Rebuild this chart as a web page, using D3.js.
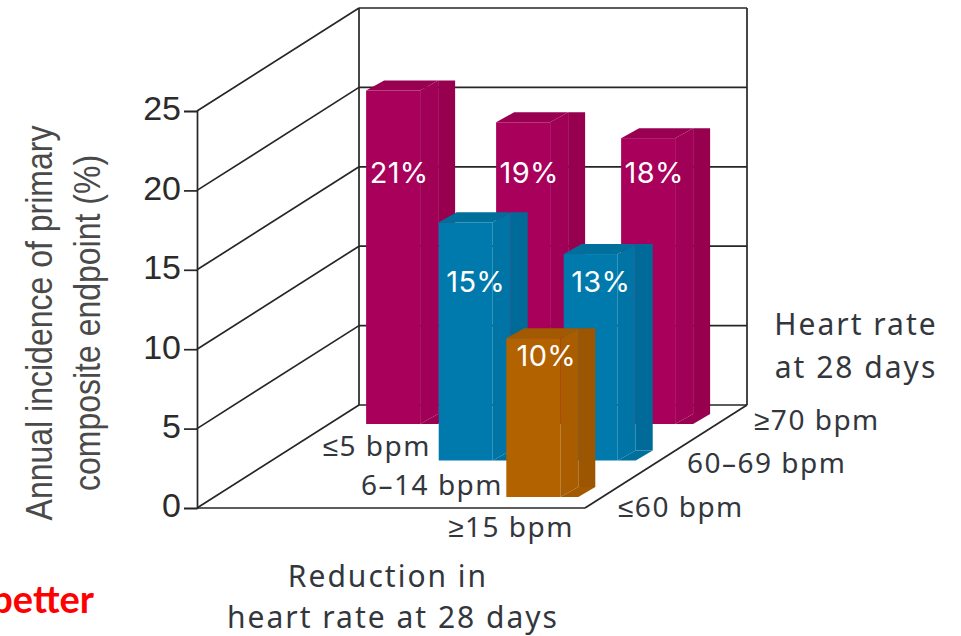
<!DOCTYPE html>
<html>
<head>
<meta charset="utf-8">
<script src="https://cdn.jsdelivr.net/npm/d3@7"></script>
<style>
html, body { margin: 0; padding: 0; background: #fff; overflow: hidden; }
svg { display: block; }
.plex { font-family: "Noto Sans", sans-serif; fill: #33373d; }
.arial { font-family: "Liberation Sans", sans-serif; }
</style>
</head>
<body>
<svg id="chart" width="961" height="636"></svg>
<script>
// Categories and values
const reductionGroups = ["≤5 bpm", "6–14 bpm", "≥15 bpm"];
const heartRateGroups = ["≤60 bpm", "60–69 bpm", "≥70 bpm"];
const incidenceTicks = [0, 5, 10, 15, 20, 25];
const backRowValues = [21, 19, 18];
const middleRowValues = [null, 15, 13];
const frontRowValues = [null, null, 10];
const rowValues = [frontRowValues, middleRowValues, backRowValues];

// Oblique projection: the floor is sheared up and to the right
const svg = d3.select("#chart");
const y = d3.scaleLinear().domain([0, 25]).range([508, 111]);
const unitHeight = y(0) - y(1);
const wall = { left: 197, right: 585, depthX: 162, depthY: 103 };
const shearX = wall.depthX / wall.depthY;
const depth = d3.scalePoint().domain(heartRateGroups).range([11, 84]);
const column = d3.scaleOrdinal().domain(reductionGroups).range([234, 364, 489]);

const project = (x, d) => [x + d * shearX, y(0) - d];

// Bar proportions and shades
const bar = { front: 54, side: 18, strip: 17, rise: 10 };
const palette = {
  "≥70 bpm":   { front: "#a8005b", side: "#a00056", strip: "#96004f", top: "#990051" },
  "60–69 bpm": { front: "#007aad", side: "#0074a5", strip: "#006a98", top: "#006f9c" },
  "≤60 bpm":   { front: "#b36200", side: "#a95c00", strip: "#9c5500", top: "#a25900" }
};

// Back wall, floor and side wall
const frame = svg.append("g").attr("fill", "none").attr("stroke", "#262626").attr("stroke-width", 1.7);
const backX = wall.left + wall.depthX;
const backRight = wall.right + wall.depthX;
const backY = v => y(v) - wall.depthY;

incidenceTicks.forEach(v => {
  frame.append("line").attr("x1", wall.left).attr("y1", y(v)).attr("x2", backX).attr("y2", backY(v));
  frame.append("line").attr("x1", backX).attr("y1", backY(v)).attr("x2", backRight).attr("y2", backY(v));
});
frame.append("line").attr("x1", backX).attr("y1", backY(25)).attr("x2", backX).attr("y2", backY(0));
frame.append("line").attr("x1", backRight).attr("y1", backY(25)).attr("x2", backRight).attr("y2", backY(0));
frame.append("line").attr("x1", wall.left).attr("y1", y(0)).attr("x2", wall.right).attr("y2", y(0));
frame.append("line").attr("x1", wall.right).attr("y1", y(0)).attr("x2", backRight).attr("y2", backY(0));

// Vertical axis
const axis = svg.append("g").attr("transform", `translate(${wall.left},0)`)
  .call(d3.axisLeft(y).tickValues(incidenceTicks).tickSize(13).tickPadding(3).tickFormat(d3.format("d")));
axis.selectAll("path, line").attr("stroke", "#262626").attr("stroke-width", 1.7);
axis.selectAll("text").attr("class", "arial").attr("font-size", 34).attr("fill", "#2b2b2b")
  .attr("transform", "translate(0,-2)");

// Bars, drawn from the back row forward
const poly = (g, pts, fill) => g.append("polygon").attr("points", pts.map(p => p.join(",")).join(" ")).attr("fill", fill);

rowValues.slice().reverse().forEach(values => {
  const rowName = heartRateGroups[rowValues.indexOf(values)];
  values.forEach((value, i) => {
    if (value === null) return;
    const [x0, base] = project(column(reductionGroups[i]), depth(rowName));
    const top = base - value * unitHeight;
    const c = palette[rowName];
    const x1 = x0 + bar.front, x2 = x1 + bar.side, x3 = x2 + bar.strip;
    const g = svg.append("g");
    poly(g, [[x2, top - bar.rise], [x3, top - bar.rise], [x3, base - bar.rise], [x2, base - bar.rise]], c.strip);
    poly(g, [[x1, top], [x2, top - bar.rise], [x2, base - bar.rise], [x1, base]], c.side);
    poly(g, [[x1, base], [x2, base - bar.rise], [x3, base - bar.rise], [x2, base]], c.top);
    poly(g, [[x0, top], [x0 + bar.side, top - bar.rise], [x2, top - bar.rise], [x1, top]], c.top);
    g.append("rect").attr("x", x0).attr("y", top).attr("width", bar.front).attr("height", base - top).attr("fill", c.front);
  });
});

// Value labels, placed on the bars in stacking order
const labelRow = d3.scaleOrdinal().domain(heartRateGroups).range([366, 292, 183]);
const labelShift = d3.scaleOrdinal().domain(heartRateGroups).range([13, 10, 6]);
rowValues.forEach((values, r) => {
  const rowName = heartRateGroups[r];
  values.forEach((value, i) => {
    if (value === null) return;
    const [x0] = project(column(reductionGroups[i]), depth(rowName));
    svg.append("text").attr("x", x0 + bar.front / 2 + labelShift(rowName)).attr("y", labelRow(rowName))
      .attr("text-anchor", "middle").attr("font-family", "Inter, sans-serif").attr("font-size", 29)
      .attr("letter-spacing", 0.3).attr("fill", "#fff").text(value + "%");
  });
});

// Category labels along the two floor edges
const text = (x, y0, str, anchor, size = 28, spacing = 1.5) => svg.append("text").attr("class", "plex")
  .attr("x", x).attr("y", y0).attr("text-anchor", anchor).attr("font-size", size)
  .attr("letter-spacing", spacing).text(str);

text(431, 456, reductionGroups[0], "end");
text(503, 495, reductionGroups[1], "end");
text(574, 537, reductionGroups[2], "end");
text(618, 517, heartRateGroups[0], "start");
text(687, 473, heartRateGroups[1], "start");
text(754, 430, heartRateGroups[2], "start");

text(856, 335, "Heart rate", "middle", 30, 2);
text(856, 378, "at 28 days", "middle", 30, 2);
text(388, 587, "Reduction in", "middle", 30, 2);
text(393, 628, "heart rate at 28 days", "middle", 30, 2);

// Rotated axis title, narrow and tall
[["Annual incidence of primary", 52], ["composite endpoint (%)", 100]].forEach(([line, x]) => {
  svg.append("text").attr("class", "arial").attr("font-size", 37).attr("fill", "#4a4a4a")
    .attr("text-anchor", "middle")
    .attr("transform", `translate(${x},323) rotate(-90) scale(0.865,1)`).text(line);
});

// Red caption running off the left edge
svg.append("text").attr("x", 94).attr("y", 613).attr("text-anchor", "end")
  .attr("font-family", "Lato, sans-serif").attr("font-weight", 700).attr("font-size", 38)
  .attr("fill", "#ff0000").text("better");
</script>
</body>
</html>
